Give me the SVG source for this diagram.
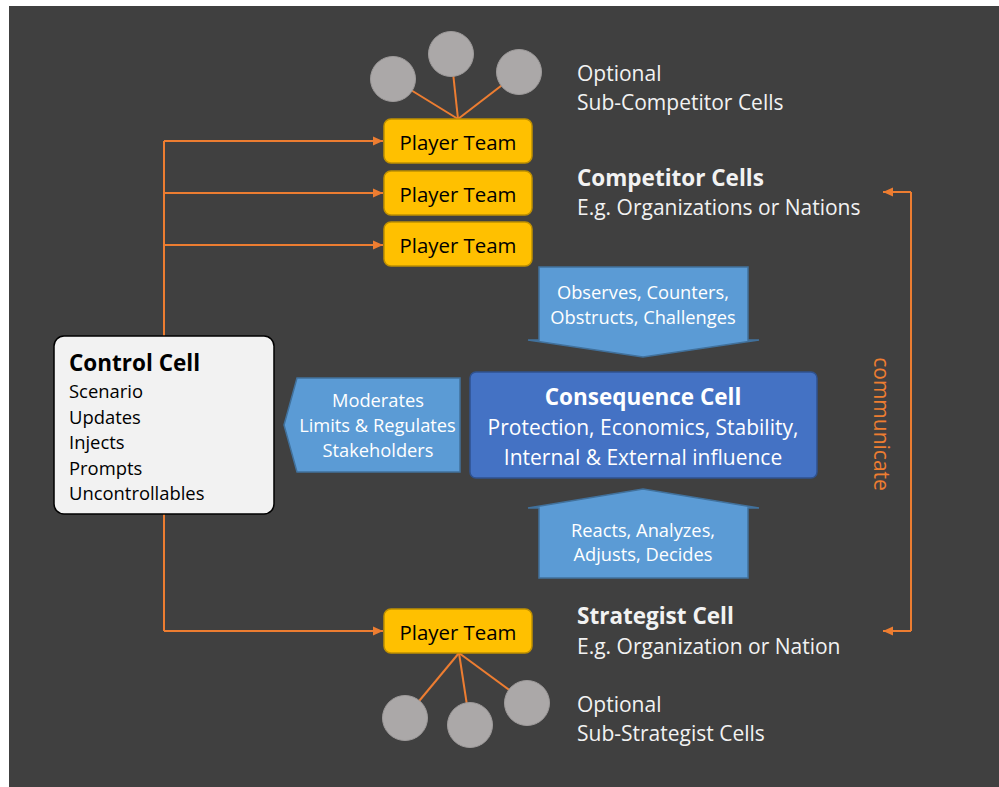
<svg xmlns="http://www.w3.org/2000/svg" width="999" height="787" viewBox="0 0 999 787">
<style>
text{font-family:"Open Sans","Noto Sans","DejaVu Sans",sans-serif;}
.bg{fill:#404040;}
.conn{stroke:#ED7D31;stroke-width:2;fill:none;}
.sub{fill:#ABA8A8;stroke:#9E9B9B;stroke-width:1;}
.team{fill:#FFC000;stroke:#BF9000;stroke-width:1.5;}
.teamtxt{font-size:20.4px;fill:#000;text-anchor:middle;}
.lbl{font-size:21px;fill:#F2F2F2;}
.lblb{font-size:22.5px;fill:#F2F2F2;font-weight:bold;}
.ctl{fill:#F2F2F2;stroke:#000;stroke-width:1.5;}
.ctltxt{font-size:18.4px;fill:#000;}
.barrow{fill:#5B9BD5;stroke:#41719C;stroke-width:1.5;}
.atxt{font-size:18.3px;fill:#fff;text-anchor:middle;}
.cons{fill:#4472C4;stroke:#2F528F;stroke-width:1.5;}
.constxt{font-size:21px;fill:#fff;text-anchor:middle;}
</style>
<defs>
<marker id="ah" markerUnits="userSpaceOnUse" markerWidth="11" markerHeight="11" refX="10" refY="5.5" orient="auto">
<path d="M0,1 L10,5.5 L0,10 z" fill="#ED7D31"/>
</marker>
</defs>
<rect class="bg" x="9" y="6" width="990" height="781"/>

<g id="connectors">
<path class="conn" d="M164,141 L164,631"/>
<path class="conn" d="M164,141 L383,141" marker-end="url(#ah)"/>
<path class="conn" d="M164,193 L383,193" marker-end="url(#ah)"/>
<path class="conn" d="M164,245 L383,245" marker-end="url(#ah)"/>
<path class="conn" d="M164,631 L383,631" marker-end="url(#ah)"/>
<path class="conn" d="M393,79 L458,119"/>
<path class="conn" d="M451,54 L458,119"/>
<path class="conn" d="M519,72 L458,119"/>
<path class="conn" d="M405,718 L459,653"/>
<path class="conn" d="M470,725 L459,653"/>
<path class="conn" d="M527,703 L459,653"/>
<path class="conn" d="M911,192 L911,631"/>
<path class="conn" d="M911,192 L883,192" marker-end="url(#ah)"/>
<path class="conn" d="M911,631 L883,631" marker-end="url(#ah)"/>
</g>

<g id="sub-competitors">
<circle class="sub" cx="393" cy="79" r="22.5"/>
<circle class="sub" cx="451" cy="54" r="22.5"/>
<circle class="sub" cx="519" cy="72" r="22.5"/>
</g>
<g id="sub-strategists">
<circle class="sub" cx="405" cy="718" r="22.5"/>
<circle class="sub" cx="470" cy="725" r="22.5"/>
<circle class="sub" cx="527" cy="703" r="22.5"/>
</g>

<g id="player-team-1"><rect class="team" x="384" y="119" width="148" height="44" rx="7"/><text class="teamtxt" x="458" y="149.5">Player Team</text></g>
<g id="player-team-2"><rect class="team" x="384" y="171" width="148" height="44" rx="7"/><text class="teamtxt" x="458" y="201.5">Player Team</text></g>
<g id="player-team-3"><rect class="team" x="384" y="222" width="148" height="44" rx="7"/><text class="teamtxt" x="458" y="252.5">Player Team</text></g>
<g id="player-team-4"><rect class="team" x="384" y="609" width="148" height="44" rx="7"/><text class="teamtxt" x="458" y="639.5">Player Team</text></g>

<g id="control-cell">
<rect class="ctl" x="54" y="336" width="220" height="178" rx="10"/>
<text x="69" y="371" style="font-size:22.5px;font-weight:bold;fill:#000">Control Cell</text>
<text class="ctltxt" x="69" y="398">Scenario</text>
<text class="ctltxt" x="69" y="423.5">Updates</text>
<text class="ctltxt" x="69" y="449">Injects</text>
<text class="ctltxt" x="69" y="474.5">Prompts</text>
<text class="ctltxt" x="69" y="500">Uncontrollables</text>
</g>

<g id="moderates-arrow">
<polygon class="barrow" points="460,378 297,378 284,425 297,472 460,472"/>
<text class="atxt" x="378" y="407">Moderates</text>
<text class="atxt" x="377.5" y="432">Limits &amp; Regulates</text>
<text class="atxt" x="378" y="457">Stakeholders</text>
</g>

<g id="observes-arrow">
<polygon class="barrow" points="539,267 748,267 748,340 759,340 643,357 528,340 539,340"/>
<text class="atxt" x="643" y="298.5">Observes, Counters,</text>
<text class="atxt" x="643" y="323.5">Obstructs, Challenges</text>
</g>

<g id="reacts-arrow">
<polygon class="barrow" points="643,489 759,508 748,508 748,578 539,578 539,508 528,508"/>
<text class="atxt" x="643" y="537">Reacts, Analyzes,</text>
<text class="atxt" x="643" y="561">Adjusts, Decides</text>
</g>

<g id="consequence-cell">
<rect class="cons" x="470" y="372" width="347" height="106" rx="6"/>
<text class="constxt" x="643" y="404.5" style="font-weight:bold;font-size:22.5px">Consequence Cell</text>
<text class="constxt" x="643" y="435">Protection, Economics, Stability,</text>
<text class="constxt" x="643" y="464.5">Internal &amp; External influence</text>
</g>

<g id="labels">
<text class="lbl" x="577" y="81">Optional</text>
<text class="lbl" x="577" y="109.5">Sub-Competitor Cells</text>
<text class="lblb" x="577" y="185.5">Competitor Cells</text>
<text class="lbl" x="577" y="215">E.g. Organizations or Nations</text>
<text class="lblb" x="577" y="624">Strategist Cell</text>
<text class="lbl" x="577" y="654">E.g. Organization or Nation</text>
<text class="lbl" x="577" y="712">Optional</text>
<text class="lbl" x="577" y="741">Sub-Strategist Cells</text>
<text transform="translate(874,424) rotate(90)" style="font-size:21px;fill:#ED7D31;text-anchor:middle">communicate</text>
</g>
</svg>
